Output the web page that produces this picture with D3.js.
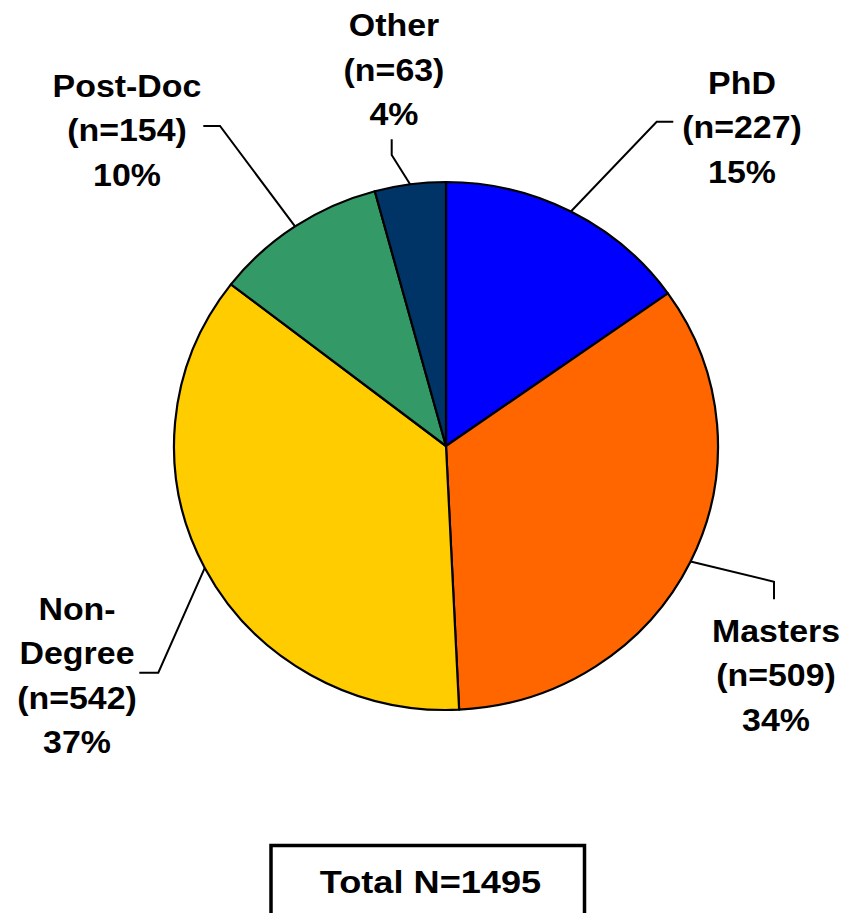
<!DOCTYPE html>
<html>
<head>
<meta charset="utf-8">
<script src="https://cdn.jsdelivr.net/npm/d3@7"></script>
<style>
  html, body { margin: 0; padding: 0; background: #fff; }
  svg { display: block; }
  text { font-family: "Liberation Sans", Arial, sans-serif; font-weight: bold; fill: #000; }
</style>
</head>
<body>
<svg id="chart" width="844" height="913"></svg>
<script>
// ---- data ----
const categories = ["PhD", "Masters", "Non-Degree", "Post-Doc", "Other"];
const labelLines = [["PhD"], ["Masters"], ["Non-", "Degree"], ["Post-Doc"], ["Other"]];
const counts = [227, 509, 542, 154, 63];
const percents = ["15%", "34%", "37%", "10%", "4%"];
const colors = ["#0000FF", "#FF6600", "#FFCC00", "#339966", "#003366"];
const totalLabel = "Total N=1495";

// ---- layout ----
const W = 844, H = 913;
const cx = 446, cy = 446, rx = 272, ry = 264;
const lineH = 44.5;
const labelPos = [
  {x: 742, y: 93.5, elbow: [656.7, 121.7], end: [673.3, 121.7]},
  {x: 776, y: 641.5, elbow: [774, 581.7], end: [774, 599.3]},
  {x: 77, y: 619.5, elbow: [158.3, 672.7], end: [139.3, 672.7]},
  {x: 127, y: 96.7, elbow: [220, 126], end: [203.3, 126]},
  {x: 394, y: 36, elbow: [391.7, 155], end: [391.7, 139.3]}
];

const svg = d3.select("#chart");
const data = categories.map((c, i) => ({name: c, value: counts[i], i}));
const pie = d3.pie().value(d => d.value).sort(null).startAngle(0).endAngle(2 * Math.PI);
const arcs = pie(data);
const arc = d3.arc().innerRadius(0).outerRadius(rx);

const pieG = svg.append("g").attr("transform", `translate(${cx},${cy}) scale(1,${ry / rx})`);
pieG.selectAll("path").data(arcs).join("path")
  .attr("d", arc)
  .attr("fill", d => colors[d.data.i])
  .attr("stroke", "#000")
  .attr("stroke-width", 2.2)
  .attr("stroke-linejoin", "round")
  .attr("vector-effect", "non-scaling-stroke");

// leader lines
const line = d3.line();
arcs.forEach(a => {
  const mid = (a.startAngle + a.endAngle) / 2;
  const p0 = [cx + rx * Math.sin(mid), cy - ry * Math.cos(mid)];
  const lp = labelPos[a.data.i];
  svg.append("path")
    .attr("d", line([p0, lp.elbow, lp.end]))
    .attr("fill", "none")
    .attr("stroke", "#000")
    .attr("stroke-width", 2);
});

// labels
data.forEach(d => {
  const lp = labelPos[d.i];
  const lines = labelLines[d.i].concat([`(n=${counts[d.i]})`, percents[d.i]]);
  lines.forEach((t, k) => {
    svg.append("g")
      .attr("transform", `translate(${lp.x},${lp.y + k * lineH}) scale(1.06,1)`)
      .append("text")
      .attr("text-anchor", "middle")
      .attr("font-size", 32)
      .text(t);
  });
});

// total box
svg.append("rect")
  .attr("x", 271).attr("y", 845.5)
  .attr("width", 313.5).attr("height", 100)
  .attr("fill", "#fff").attr("stroke", "#000").attr("stroke-width", 3.5);
svg.append("g")
  .attr("transform", `translate(430.5,892.7) scale(1.13,1)`)
  .append("text")
  .attr("text-anchor", "middle")
  .attr("font-size", 32)
  .text(totalLabel);
</script>
</body>
</html>
